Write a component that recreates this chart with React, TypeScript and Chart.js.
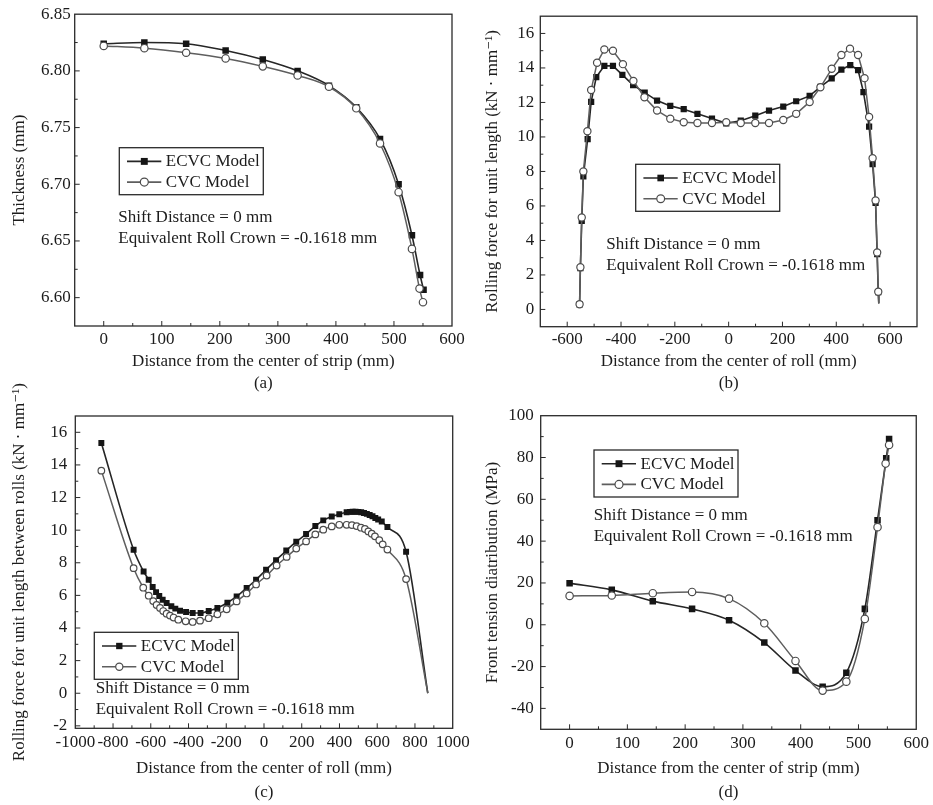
import React, { useEffect, useRef } from 'react';
import { Chart, registerables } from 'chart.js';

Chart.register(...registerables);

const FONT = "'Liberation Serif', 'Times New Roman', 'DejaVu Serif', serif";
const TEXT = '#1c1c1c';
const ECVC_LINE = '#262626';
const ECVC_MARK = '#151515';
const CVC_LINE = '#5e5e5e';
const CVC_MARK = '#4c4c4c';
const FRAME = '#2a2a2a';

const seriesNames = ['ECVC Model', 'CVC Model'];
const noteLines = ['Shift Distance = 0 mm', 'Equivalent Roll Crown = -0.1618 mm'];

// ---------- Panel (a): thickness ----------
const aEcvcX = [0, 70, 142, 210, 274, 334, 388, 435, 476, 508, 531, 545, 551];
const aEcvcY = [6.824, 6.825, 6.824, 6.818, 6.81, 6.8, 6.787, 6.768, 6.74, 6.7, 6.655, 6.62, 6.607];
const aCvcX = [0, 70, 142, 210, 274, 334, 388, 435, 476, 508, 531, 544, 550];
const aCvcY = [6.822, 6.82, 6.816, 6.811, 6.804, 6.796, 6.786, 6.767, 6.736, 6.693, 6.643, 6.608, 6.596];
const aXTicks = [0, 100, 200, 300, 400, 500, 600];
const aYTicks = [6.6, 6.65, 6.7, 6.75, 6.8, 6.85];

// ---------- Panel (b): rolling force for unit length ----------
const bEcvcX = [-554, -551, -546, -540, -524, -511, -492, -462, -430, -395, -355, -312, -266, -217, -167, -116, -62, -9, 45, 99, 150, 203, 251, 301, 341, 383, 419, 452, 481, 501, 522, 535, 546, 552, 556, 558];
const bEcvcY = [0.3, 2.4, 5.13, 7.72, 9.88, 12.03, 13.47, 14.12, 14.12, 13.6, 13.0, 12.57, 12.11, 11.8, 11.61, 11.34, 11.07, 10.79, 10.94, 11.23, 11.53, 11.76, 12.07, 12.38, 12.9, 13.4, 13.9, 14.17, 13.88, 12.6, 10.6, 8.43, 6.18, 3.2, 1.0, 0.35];
const bCvcX = [-554, -551, -546, -540, -525, -511, -489, -462, -430, -393, -354, -313, -266, -217, -167, -116, -62, -9, 45, 99, 150, 203, 251, 301, 341, 383, 419, 451, 481, 505, 522, 535, 546, 552, 556, 558];
const bCvcY = [0.3, 2.45, 5.33, 8.0, 10.33, 12.72, 14.3, 15.07, 15.0, 14.22, 13.25, 12.3, 11.53, 11.06, 10.85, 10.81, 10.81, 10.85, 10.81, 10.81, 10.81, 10.98, 11.34, 12.03, 12.88, 13.95, 14.75, 15.12, 14.75, 13.41, 11.16, 8.77, 6.32, 3.3, 1.03, 0.35];
const bXTicks = [-600, -400, -200, 0, 200, 400, 600];
const bYTicks = [0, 2, 4, 6, 8, 10, 12, 14, 16];

// ---------- Panel (c): rolling force between rolls ----------
const cEcvcX = [-862, -691, -638, -611, -590, -572, -555, -537, -516, -491, -470, -445, -413, -378, -336, -293, -247, -194, -145, -92, -42, 11, 64, 118, 171, 223, 272, 314, 359, 399, 438, 455, 470, 485, 500, 515, 530, 545, 560, 575, 590, 605, 624, 654, 753, 868];
const cEcvcY = [15.35, 8.8, 7.46, 6.96, 6.51, 6.2, 5.96, 5.73, 5.53, 5.33, 5.19, 5.06, 4.98, 4.92, 4.92, 5.04, 5.23, 5.55, 5.94, 6.45, 6.96, 7.57, 8.16, 8.75, 9.29, 9.76, 10.25, 10.6, 10.84, 10.98, 11.1, 11.12, 11.13, 11.13, 11.12, 11.1, 11.05, 11.0, 10.93, 10.85, 10.75, 10.65, 10.53, 10.19, 8.68, 0];
const cCvcX = [-862, -691, -640, -611, -587, -569, -551, -534, -516, -498, -479, -454, -415, -378, -339, -293, -247, -198, -145, -92, -42, 14, 67, 120, 171, 223, 272, 314, 359, 399, 438, 466, 491, 514, 535, 553, 571, 588, 611, 629, 654, 753, 868];
const cCvcY = [13.65, 7.67, 6.47, 5.98, 5.65, 5.41, 5.23, 5.04, 4.88, 4.76, 4.64, 4.51, 4.41, 4.37, 4.45, 4.6, 4.84, 5.15, 5.63, 6.12, 6.67, 7.22, 7.83, 8.36, 8.87, 9.31, 9.74, 10.03, 10.23, 10.33, 10.33, 10.31, 10.25, 10.15, 10.07, 9.92, 9.78, 9.62, 9.38, 9.13, 8.81, 7.0, 0];
const cXTicks = [-1000, -800, -600, -400, -200, 0, 200, 400, 600, 800, 1000];
const cYTicks = [-2, 0, 2, 4, 6, 8, 10, 12, 14, 16];

// ---------- Panel (d): front tension ----------
const dEcvcX = [0, 73, 144, 212, 276, 337, 391, 438, 479, 511, 533, 548, 553];
const dEcvcY = [19.9, 16.7, 11.3, 7.6, 2.2, -8.5, -21.9, -29.6, -22.9, 7.6, 50.0, 79.7, 88.8];
const dCvcX = [0, 73, 144, 212, 276, 337, 391, 438, 479, 511, 533, 547, 553];
const dCvcY = [13.8, 14.0, 15.1, 15.7, 12.5, 0.7, -17.3, -31.5, -27.2, 2.8, 46.7, 77.1, 86.0];
const dXTicks = [0, 100, 200, 300, 400, 500, 600];
const dYTicks = [-40, -20, 0, 20, 40, 60, 80, 100];

const stripTitle = 'Distance from the center of strip (mm)';
const rollTitle = 'Distance from the center of roll (mm)';

type Spec = {
  tag: string;
  xTitle: string;
  yTitle: string;
  ex: number[]; ey: number[]; cx: number[]; cy: number[];
  xTicks: number[]; yTicks: number[];
  xMin: number; xMax: number; yMin: number; yMax: number;
  yDecimals: number;
  box: { left: number; bottom: number };
  plot: { l: number; t: number; r: number; b: number };
  yTitlePad: number; xTitlePad: number; xTitleLH: number;
  xTickPad: number; yTickPad: number;
  legend: { x: number; y: number };
  notes: { x: number; y: number };
  smooth: boolean; hideLast: boolean;
  rectR: number; circR: number;
};

const specs: Spec[] = [
  {
    tag: '(a)', xTitle: stripTitle, yTitle: 'Thickness (mm)',
    ex: aEcvcX, ey: aEcvcY, cx: aCvcX, cy: aCvcY, xTicks: aXTicks, yTicks: aYTicks,
    xMin: -50, xMax: 600, yMin: 6.575, yMax: 6.85, yDecimals: 2,
    box: { left: 0, bottom: 400 }, plot: { l: 74.7, t: 12.7, r: 452, b: 326 },
    yTitlePad: 9.8, xTitlePad: 6, xTitleLH: 21.5, xTickPad: 3, yTickPad: 4,
    legend: { x: 119.3, y: 147.7 }, notes: { x: 118.3, y: 217.7 },
    smooth: true, hideLast: false, rectR: 4.6, circR: 3.7,
  },
  {
    tag: '(b)', xTitle: rollTitle, yTitle: 'Rolling force for unit length (kN · mm⁻¹)',
    ex: bEcvcX, ey: bEcvcY, cx: bCvcX, cy: bCvcY, xTicks: bXTicks, yTicks: bYTicks,
    xMin: -700, xMax: 700, yMin: -1, yMax: 17, yDecimals: 0,
    box: { left: 466, bottom: 400 }, plot: { l: 540.3, t: 13.3, r: 917, b: 326.7 },
    yTitlePad: 16.1, xTitlePad: 6, xTitleLH: 21.5, xTickPad: 3, yTickPad: 6,
    legend: { x: 635.7, y: 164.3 }, notes: { x: 606.3, y: 245 },
    smooth: false, hideLast: true, rectR: 4.4, circR: 3.6,
  },
  {
    tag: '(c)', xTitle: rollTitle, yTitle: 'Rolling force for unit length between rolls (kN · mm⁻¹)',
    ex: cEcvcX, ey: cEcvcY, cx: cCvcX, cy: cCvcY, xTicks: cXTicks, yTicks: cYTicks,
    xMin: -1000, xMax: 1000, yMin: -2.15, yMax: 17, yDecimals: 0,
    box: { left: 0, bottom: 805 }, plot: { l: 75.3, t: 416, r: 452.7, b: 728.3 },
    yTitlePad: 9.8, xTitlePad: 0, xTitleLH: 24.5, xTickPad: 4, yTickPad: 8,
    legend: { x: 94.3, y: 632.3 }, notes: { x: 95.7, y: 688.7 },
    smooth: true, hideLast: true, rectR: 4.2, circR: 3.3,
  },
  {
    tag: '(d)', xTitle: stripTitle, yTitle: 'Front tension diatribution (MPa)',
    ex: dEcvcX, ey: dEcvcY, cx: dCvcX, cy: dCvcY, xTicks: dXTicks, yTicks: dYTicks,
    xMin: -50, xMax: 600, yMin: -50, yMax: 100, yDecimals: 0,
    box: { left: 466, bottom: 805 }, plot: { l: 540.7, t: 415.7, r: 916.3, b: 729.3 },
    yTitlePad: 16.1, xTitlePad: 0, xTitleLH: 24.5, xTickPad: 4, yTickPad: 7,
    legend: { x: 594, y: 450 }, notes: { x: 593.7, y: 515.7 },
    smooth: true, hideLast: false, rectR: 4.6, circR: 3.7,
  },
];

const W = 933;
const H = 805;

function minorBetween(majors: number[], min: number, max: number): number[] {
  const step = majors[1] - majors[0];
  const eps = Math.abs(step) * 1e-4;
  const out: number[] = [];
  for (let v = majors[0] - step / 2; v > min + eps; v -= step) out.push(v);
  for (let v = majors[0] + step / 2; v < max - eps; v += step) out.push(v);
  return out;
}

function drawMarker(ctx: CanvasRenderingContext2D, kind: 'rect' | 'circle', x: number, y: number, r: number) {
  ctx.beginPath();
  if (kind === 'rect') {
    const s = Math.SQRT1_2 * r;
    ctx.rect(x - s, y - s, 2 * s, 2 * s);
    ctx.fillStyle = ECVC_MARK;
    ctx.fill();
  } else {
    ctx.arc(x, y, r, 0, Math.PI * 2);
    ctx.fillStyle = '#ffffff';
    ctx.fill();
    ctx.lineWidth = 1.2;
    ctx.strokeStyle = CVC_MARK;
    ctx.stroke();
  }
}

function makeDecor(s: Spec) {
  return {
    id: 'decor',
    afterDraw(chart: any) {
      const ctx: CanvasRenderingContext2D = chart.ctx;
      const { left, right, top, bottom } = chart.chartArea;
      const xs = chart.scales.x;
      const ys = chart.scales.y;
      ctx.save();
      // frame
      ctx.strokeStyle = FRAME;
      ctx.lineWidth = 1.3;
      ctx.strokeRect(left, top, right - left, bottom - top);
      // inward ticks
      ctx.lineWidth = 1;
      ctx.beginPath();
      const tx = (vals: number[], len: number) => vals.forEach((v) => {
        const p = xs.getPixelForValue(v);
        ctx.moveTo(p, bottom);
        ctx.lineTo(p, bottom - len);
      });
      const ty = (vals: number[], len: number) => vals.forEach((v) => {
        const p = ys.getPixelForValue(v);
        ctx.moveTo(left, p);
        ctx.lineTo(left + len, p);
      });
      tx(s.xTicks.filter((v) => v > s.xMin && v < s.xMax), 5);
      tx(minorBetween(s.xTicks, s.xMin, s.xMax), 3);
      ty(s.yTicks.filter((v) => v > s.yMin && v < s.yMax), 5);
      ty(minorBetween(s.yTicks, s.yMin, s.yMax), 3);
      ctx.stroke();

      // legend box
      const lx = s.legend.x;
      const ly = s.legend.y;
      const bw = 144;
      const bh = 47;
      ctx.fillStyle = '#ffffff';
      ctx.fillRect(lx, ly, bw, bh);
      ctx.strokeStyle = FRAME;
      ctx.lineWidth = 1.3;
      ctx.strokeRect(lx, ly, bw, bh);
      const rows = [ly + 13.7, ly + 34.4];
      const kinds: ('rect' | 'circle')[] = ['rect', 'circle'];
      const lineColors = [ECVC_LINE, CVC_LINE];
      const radii = [s.rectR, s.circR];
      ctx.font = `17px ${FONT}`;
      ctx.textBaseline = 'middle';
      ctx.textAlign = 'left';
      rows.forEach((ry, i) => {
        ctx.beginPath();
        ctx.moveTo(lx + 7.7, ry);
        ctx.lineTo(lx + 42, ry);
        ctx.strokeStyle = lineColors[i];
        ctx.lineWidth = 1.6;
        ctx.stroke();
        drawMarker(ctx, kinds[i], lx + 25, ry, radii[i] + 0.3);
        ctx.fillStyle = TEXT;
        ctx.fillText(seriesNames[i], lx + 46.5, ry + 0.5);
      });
      // notes
      ctx.fillStyle = TEXT;
      noteLines.forEach((t, i) => ctx.fillText(t, s.notes.x, s.notes.y + i * 20.5));
      ctx.restore();
    },
  };
}

function buildConfig(s: Spec): any {
  const pts = (xs: number[], ys: number[]) => xs.map((x, i) => ({ x, y: ys[i] }));
  const n1 = s.ex.length;
  const n2 = s.cx.length;
  const tickFont = { family: FONT, size: 17 };
  return {
    type: 'line',
    data: {
      datasets: [
        {
          label: seriesNames[0],
          data: pts(s.ex, s.ey),
          order: 2,
          borderColor: ECVC_LINE,
          borderWidth: 1.6,
          backgroundColor: ECVC_MARK,
          pointBackgroundColor: ECVC_MARK,
          pointBorderColor: ECVC_MARK,
          pointBorderWidth: 0,
          pointStyle: 'rect',
          pointRadius: (c: any) => (s.hideLast && c.dataIndex === n1 - 1 ? 0 : s.rectR),
          cubicInterpolationMode: s.smooth ? 'monotone' : 'default',
          tension: 0,
          fill: false,
        },
        {
          label: seriesNames[1],
          data: pts(s.cx, s.cy),
          order: 1,
          borderColor: CVC_LINE,
          borderWidth: 1.5,
          backgroundColor: '#ffffff',
          pointBackgroundColor: '#ffffff',
          pointBorderColor: CVC_MARK,
          pointBorderWidth: 1.2,
          pointStyle: 'circle',
          pointRadius: (c: any) => (s.hideLast && c.dataIndex === n2 - 1 ? 0 : s.circR),
          cubicInterpolationMode: s.smooth ? 'monotone' : 'default',
          tension: 0,
          fill: false,
        },
      ],
    },
    options: {
      responsive: false,
      animation: false,
      devicePixelRatio: 1,
      events: [],
      layout: {
        padding: {
          left: s.box.left,
          top: s.plot.t,
          right: W - s.plot.r,
          bottom: H - s.box.bottom,
        },
      },
      plugins: {
        legend: { display: false },
        tooltip: { enabled: false },
        title: { display: false },
      },
      scales: {
        x: {
          type: 'linear',
          min: s.xMin,
          max: s.xMax,
          afterBuildTicks: (sc: any) => { sc.ticks = s.xTicks.map((v) => ({ value: v })); },
          afterFit: (sc: any) => { sc.height = s.box.bottom - s.plot.b; },
          ticks: {
            autoSkip: false, maxRotation: 0, minRotation: 0, padding: s.xTickPad,
            color: TEXT, font: tickFont,
            callback: (v: number) => String(Math.round(v)),
          },
          grid: { display: false, drawTicks: false },
          border: { display: false },
          title: {
            display: true, text: [s.xTitle, s.tag], color: TEXT,
            font: { family: FONT, size: 17, lineHeight: s.xTitleLH / 17 },
            padding: { top: 0, bottom: s.xTitlePad },
          },
        },
        y: {
          type: 'linear',
          min: s.yMin,
          max: s.yMax,
          afterBuildTicks: (sc: any) => { sc.ticks = s.yTicks.map((v) => ({ value: v })); },
          afterFit: (sc: any) => { sc.width = s.plot.l - s.box.left; },
          ticks: {
            autoSkip: false, padding: s.yTickPad, color: TEXT, font: tickFont,
            callback: (v: number) => v.toFixed(s.yDecimals),
          },
          grid: { display: false, drawTicks: false },
          border: { display: false },
          title: {
            display: true, text: s.yTitle, color: TEXT,
            font: { family: FONT, size: 17, lineHeight: 1.2 },
            padding: { top: s.yTitlePad, bottom: 0 },
          },
        },
      },
    },
    plugins: [makeDecor(s)],
  };
}

function Panel({ spec }: { spec: Spec }) {
  const ref = useRef<HTMLCanvasElement>(null);
  useEffect(() => {
    if (!ref.current) return;
    const chart = new Chart(ref.current, buildConfig(spec));
    return () => chart.destroy();
  }, [spec]);
  return (
    <canvas
      ref={ref}
      width={W}
      height={H}
      style={{ position: 'absolute', left: 0, top: 0, width: W, height: H }}
    />
  );
}

export default function App() {
  return (
    <div style={{ position: 'fixed', left: 0, top: 0, width: W, height: H, background: '#ffffff', overflow: 'hidden' }}>
      {specs.map((s) => <Panel key={s.tag} spec={s} />)}
    </div>
  );
}
